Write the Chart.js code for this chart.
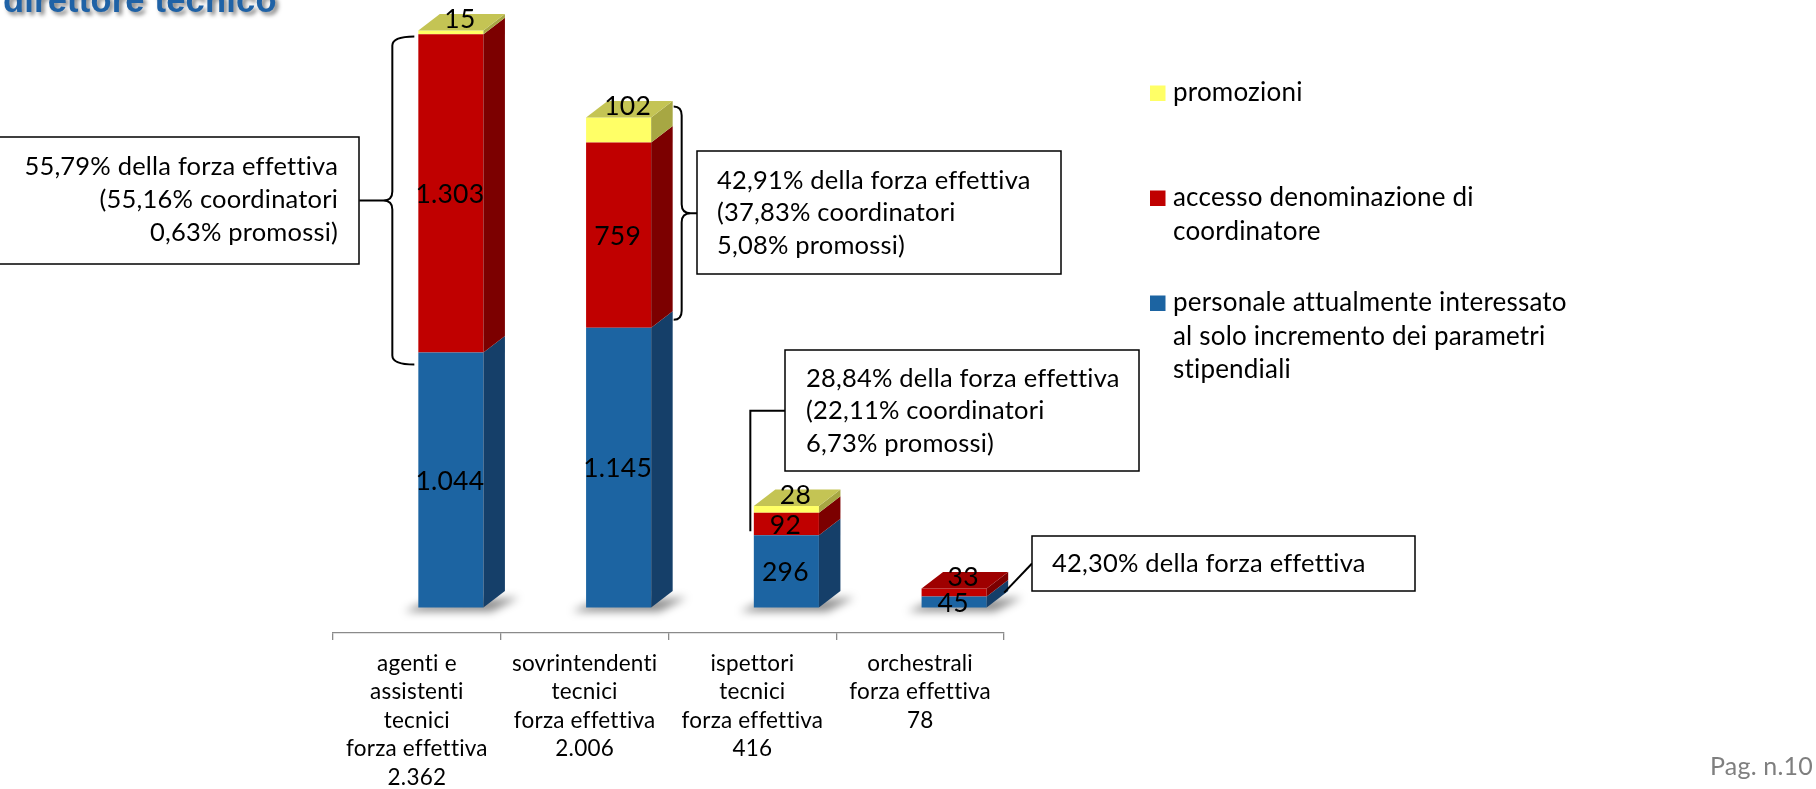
<!DOCTYPE html>
<html>
<head>
<meta charset="utf-8">
<script src="https://cdn.jsdelivr.net/npm/chart.js@4.4.1/dist/chart.umd.min.js"></script>
<style>
  html, body { margin: 0; padding: 0; background: #fff; overflow: hidden; }
  #wrap { position: relative; width: 1816px; height: 789px; }
</style>
</head>
<body>
<div id="wrap"><canvas id="chart" width="1816" height="789"></canvas></div>
<script>
// data
const categories = [
  ["agenti e", "assistenti", "tecnici"],
  ["sovrintendenti", "tecnici"],
  ["ispettori", "tecnici"],
  ["orchestrali"],
];
const personale = [1044, 1145, 296, 45];
const coordinatori = [1303, 759, 92, 33];
const promozioni = [15, 102, 28, 0];

const seriesNames = [
  ["personale attualmente interessato", "al solo incremento dei parametri", "stipendiali"],
  ["accesso denominazione di", "coordinatore"],
  ["promozioni"],
];
const notes = [
  ["55,79% della forza effettiva", "(55,16% coordinatori", "0,63% promossi)"],
  ["42,91% della forza effettiva", "(37,83% coordinatori", "5,08% promossi)"],
  ["28,84% della forza effettiva", "(22,11% coordinatori", "6,73% promossi)"],
  ["42,30% della forza effettiva"],
];

const fmt = (v) => String(v).replace(/\B(?=(\d{3})+(?!\d))/g, ".");
const totals = personale.map((v, i) => v + coordinatori[i] + promozioni[i]);
const labels = categories.map((c, i) => [...c, "forza effettiva", fmt(totals[i])]);

const FONT = "Lato";
const FRONT = ["#1c64a2", "#c00000", "#ffff66"];
const SIDE = ["#153f69", "#7c0000", "#a7a743"];
const TOP = ["#1a5588", "#9e0000", "#c4c454"];
const DX = 21.5, DY = 16.5, SHIFT = 34;

function brace(ctx, x, y1, y2, dir, hook, tip) {
  const m = (y1 + y2) / 2, r = 9;
  ctx.beginPath();
  ctx.moveTo(x - dir * hook, y1);
  ctx.quadraticCurveTo(x, y1, x, y1 + r);
  ctx.lineTo(x, m - r);
  ctx.quadraticCurveTo(x, m, x + dir * r, m);
  ctx.lineTo(x + dir * tip, m);
  ctx.moveTo(x + dir * r, m);
  ctx.quadraticCurveTo(x, m, x, m + r);
  ctx.lineTo(x, y2 - r);
  ctx.quadraticCurveTo(x, y2, x - dir * hook, y2);
  ctx.stroke();
}

function noteBox(ctx, x, y, w, h, lines, tx, ty, align) {
  ctx.fillStyle = "#fff";
  ctx.fillRect(x, y, w, h);
  ctx.strokeStyle = "#000";
  ctx.lineWidth = 1.5;
  ctx.strokeRect(x, y, w, h);
  ctx.fillStyle = "#000";
  ctx.font = "25.5px " + FONT;
  ctx.textAlign = align;
  ctx.textBaseline = "middle";
  lines.forEach((t, k) => ctx.fillText(t, tx, ty + k * 32.7));
}

const bars3d = {
  id: "bars3d",
  beforeDraw(chart) {
    // no "tt"/"ti" ligatures, closer to the original font
    chart.ctx.textRendering = "optimizeSpeed";
    chart.ctx.letterSpacing = "0.2px";
  },
  beforeDatasetsDraw(chart) {
    const ctx = chart.ctx;
    ctx.save();
    ctx.translate(SHIFT, 0);
    // soft floor shadow
    chart.getDatasetMeta(0).data.forEach((el) => {
      const l = el.x - el.width / 2, r = el.x + el.width / 2;
      ctx.save();
      ctx.filter = "blur(4px)";
      ctx.fillStyle = "rgba(0,0,0,0.45)";
      ctx.beginPath();
      ctx.moveTo(l - 14, el.base + 4);
      ctx.lineTo(l + 4, el.base - 4);
      ctx.lineTo(r + DX + 14, el.base - 10);
      ctx.lineTo(r + 8, el.base + 4);
      ctx.closePath();
      ctx.fill();
      ctx.restore();
    });
  },
  afterDatasetsDraw(chart) {
    const ctx = chart.ctx;
    const sets = chart.data.datasets;
    chart.data.labels.forEach((_, i) => {
      let topDs = -1;
      sets.forEach((ds, d) => { if (ds.data[i] > 0) topDs = d; });
      sets.forEach((ds, d) => {
        if (!ds.data[i]) return;
        const el = chart.getDatasetMeta(d).data[i];
        const l = el.x - el.width / 2, r = el.x + el.width / 2;
        ctx.fillStyle = SIDE[d];
        ctx.beginPath();
        ctx.moveTo(r, el.base);
        ctx.lineTo(r, el.y);
        ctx.lineTo(r + DX, el.y - DY);
        ctx.lineTo(r + DX, el.base - DY);
        ctx.closePath();
        ctx.fill();
        if (d === topDs) {
          ctx.fillStyle = TOP[d];
          ctx.beginPath();
          ctx.moveTo(l, el.y);
          ctx.lineTo(l + DX, el.y - DY);
          ctx.lineTo(r + DX, el.y - DY);
          ctx.lineTo(r, el.y);
          ctx.closePath();
          ctx.fill();
        }
      });
      // value labels
      ctx.fillStyle = "#000";
      ctx.font = "26.5px " + FONT;
      ctx.textAlign = "center";
      ctx.textBaseline = "middle";
      sets.forEach((ds, d) => {
        const v = ds.data[i];
        if (!v) return;
        const el = chart.getDatasetMeta(d).data[i];
        if (d === topDs) ctx.fillText(fmt(v), el.x + 9, el.y - 11);
        else ctx.fillText(fmt(v), el.x - 1, (el.y + el.base) / 2 + 1);
      });
    });

    // braces and leader lines, anchored on the bars
    ctx.strokeStyle = "#000";
    ctx.lineWidth = 2;
    const m0 = chart.getDatasetMeta(0).data, m1 = chart.getDatasetMeta(1).data, m2 = chart.getDatasetMeta(2).data;
    const b1 = m0[0], b2 = m0[1], b3 = m0[2], b4 = m0[3];
    brace(ctx, b1.x - b1.width / 2 - 26, m2[0].y + 6, b1.y + 12, -1, 22, 33);
    brace(ctx, b2.x + b2.width / 2 + DX + 9, m2[1].y - 11, b2.y - 8, 1, 8, 16);
    ctx.beginPath();
    ctx.moveTo(785 - SHIFT, 410.7);
    ctx.lineTo(b3.x - b3.width / 2 - 3.5, 410.7);
    ctx.lineTo(b3.x - b3.width / 2 - 3.5, b3.y - 4);
    ctx.stroke();
    ctx.beginPath();
    ctx.moveTo(1032 - SHIFT, 563.5);
    ctx.lineTo(b4.x + b4.width / 2 + DX - 4, m1[3].base - 4);
    ctx.stroke();
    ctx.restore();
  },
  afterDraw(chart) {
    const ctx = chart.ctx;
    ctx.save();
    noteBox(ctx, -2, 137, 361, 127, notes[0], 338, 167, "right");
    noteBox(ctx, 697, 151, 364, 123, notes[1], 717, 180.5, "left");
    noteBox(ctx, 785, 350, 354, 121, notes[2], 806, 378.5, "left");
    noteBox(ctx, 1032, 536, 383, 55, notes[3], 1052, 563.5, "left");

    // legend, reversed order
    ctx.font = "26px " + FONT;
    ctx.textAlign = "left";
    ctx.textBaseline = "middle";
    [2, 1, 0].forEach((d, k) => {
      const y0 = 93 + k * 105;
      ctx.fillStyle = FRONT[d];
      ctx.fillRect(1150, y0 - 7.5, 15.5, 15.5);
      ctx.fillStyle = "#000";
      seriesNames[d].forEach((t, j) => ctx.fillText(t, 1173, y0 + j * 33.5));
    });

    // title fragment
    ctx.font = "bold 34.5px 'Liberation Sans'";
    ctx.fillStyle = "#1f62a6";
    ctx.shadowColor = "rgba(0,0,0,0.5)";
    ctx.shadowOffsetX = 3;
    ctx.shadowOffsetY = 3;
    ctx.shadowBlur = 4;
    ctx.textBaseline = "alphabetic";
    ctx.fillText("direttore tecnico", 3, 12);
    ctx.shadowColor = "transparent";

    ctx.font = "25px " + FONT;
    ctx.fillStyle = "#7f7f7f";
    ctx.textAlign = "right";
    ctx.textBaseline = "middle";
    ctx.fillText("Pag. n.10", 1813, 767);
    ctx.restore();
  },
};

new Chart(document.getElementById("chart"), {
  type: "bar",
  data: {
    labels: labels,
    datasets: [
      { label: seriesNames[0].join(" "), data: personale, backgroundColor: FRONT[0] },
      { label: seriesNames[1].join(" "), data: coordinatori, backgroundColor: FRONT[1] },
      { label: seriesNames[2].join(" "), data: promozioni, backgroundColor: FRONT[2] },
    ],
  },
  options: {
    responsive: false,
    animation: false,
    devicePixelRatio: 1,
    layout: { padding: { left: 333, right: 812, top: 0, bottom: 0 } },
    datasets: { bar: { barPercentage: 0.388, categoryPercentage: 1, borderWidth: 0, clip: false } },
    plugins: { legend: { display: false }, title: { display: false }, tooltip: { enabled: false } },
    scales: {
      x: {
        stacked: true,
        afterFit: (s) => { s.height = 156; },
        grid: { offset: true, drawOnChartArea: false, drawTicks: true, tickLength: 7, color: "#8a8a8a", lineWidth: 1.3 },
        border: { display: true, color: "#8a8a8a", width: 1.3 },
        ticks: { color: "#000", padding: 9, font: { family: FONT, size: 22.5, lineHeight: 1.27 } },
      },
      y: { stacked: true, display: false, min: -104, max: 2487 },
    },
  },
  plugins: [bars3d],
});
</script>
</body>
</html>
